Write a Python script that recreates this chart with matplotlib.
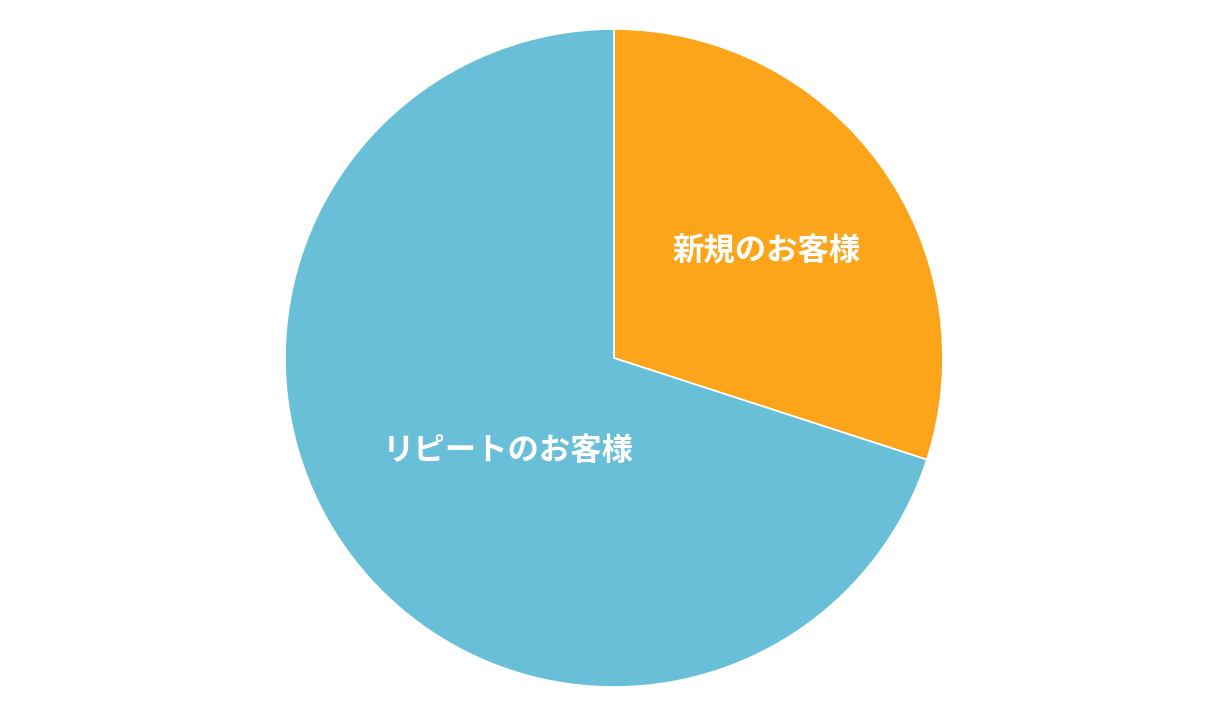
import matplotlib.pyplot as plt

plt.rcParams['font.family'] = ['Noto Sans CJK JP', 'DejaVu Sans']

# Data
labels = ['新規のお客様', 'リピートのお客様']
shares = [30, 70]
colors = ['#FCA41A', '#69BFD8']
label_pos = [(0.463, 0.325), (-0.322, -0.283)]

W, H = 1229, 719
R = 329
cx, cy = 614, 358

fig = plt.figure(figsize=(W / 100, H / 100), dpi=100)
ax = fig.add_axes([0, 0, 1, 1])

ax.pie(shares, colors=colors, startangle=90, counterclock=False,
       wedgeprops={'edgecolor': 'white', 'linewidth': 1.2})

for lab, (x, y) in zip(labels, label_pos):
    ax.text(x, y, lab, ha='center', va='center', color='white',
            fontsize=22.6, fontweight='bold')

ax.set_xlim(-cx / R, (W - cx) / R)
ax.set_ylim(-(H - cy) / R, cy / R)
ax.set_aspect('equal')
ax.axis('off')

fig.savefig('out.png', dpi=100)
